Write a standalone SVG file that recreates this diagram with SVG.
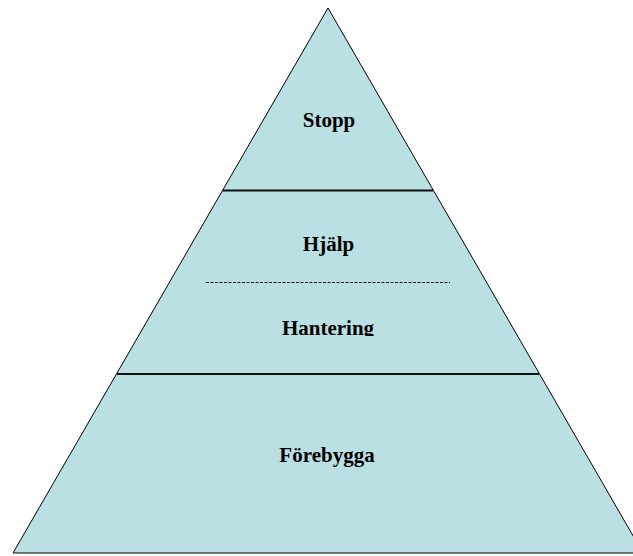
<svg xmlns="http://www.w3.org/2000/svg" width="633" height="556" viewBox="0 0 633 556">
<style>
.lbl{font-family:"Liberation Serif","Times New Roman",serif;font-weight:bold;font-size:21px;fill:#000;text-anchor:middle}
.sep{stroke:#111;stroke-width:2}
</style>
<defs>
<clipPath id="clipH"><rect x="0" y="300" width="633" height="36"/></clipPath>
</defs>
<rect width="633" height="556" fill="#fff"/>
<g id="pyramid">
<polygon points="328,8 13,553 643,553" fill="#BBE0E3" stroke="#000" stroke-width="1"/>
</g>
<g id="connectors">
<line class="sep" x1="223" y1="190.5" x2="433" y2="190.5"/>
<line class="sep" x1="117" y1="374" x2="539" y2="374"/>
<line x1="206" y1="282.5" x2="450" y2="282.5" stroke="#000" stroke-width="1" stroke-dasharray="3,1.5"/>
</g>
<g id="stopp"><text class="lbl" x="329" y="127">Stopp</text></g>
<g id="hjalp"><text class="lbl" x="328.5" y="251">Hjälp</text></g>
<g id="hantering"><text class="lbl" x="328" y="335" clip-path="url(#clipH)">Hantering</text></g>
<g id="forebygga"><text class="lbl" x="327" y="462">Förebygga</text></g>
</svg>
